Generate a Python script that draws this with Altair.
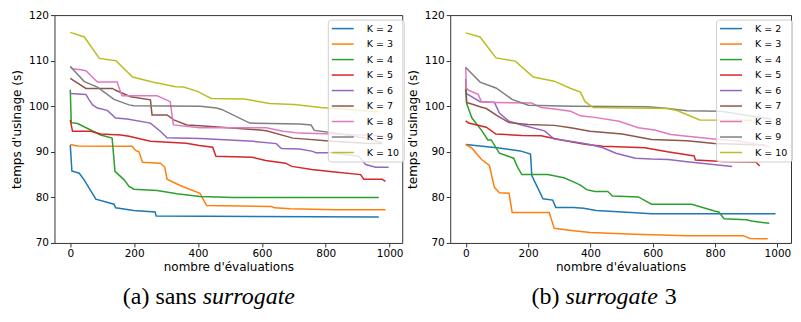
import altair as alt
import pandas as pd

K_LABELS = ["K = 2", "K = 3", "K = 4", "K = 5", "K = 6", "K = 7", "K = 8", "K = 9", "K = 10"]
COLORS = ["#1f77b4", "#ff7f0e", "#2ca02c", "#d62728", "#9467bd",
          "#8c564b", "#e377c2", "#7f7f7f", "#bcbd22"]
X_TICKS = [0, 200, 400, 600, 800, 1000]
Y_TICKS = [70, 80, 90, 100, 110, 120]

# ---------- (a) sans surrogate ----------
a_k2_x = [0, 5, 28, 44, 80, 137, 142, 199, 266, 269, 966]
a_k2_y = [91.5, 85.8, 85.3, 83.8, 79.6, 78.5, 77.7, 77.1, 76.8, 75.9, 75.7]
a_k3_x = [0, 23, 194, 204, 215, 226, 282, 296, 303, 344, 406, 427, 630, 640, 690, 830, 987]
a_k3_y = [91.6, 91.3, 91.2, 90.3, 90.0, 87.7, 87.5, 86.6, 84.0, 82.6, 80.9, 78.2, 78.0, 77.7, 77.5, 77.3, 77.3]
a_k4_x = [0, 3, 23, 95, 131, 140, 168, 184, 199, 272, 334, 406, 510, 966]
a_k4_y = [103.6, 96.4, 96.2, 93.7, 93.0, 85.7, 83.9, 82.4, 81.8, 81.5, 80.8, 80.2, 80.0, 80.0]
a_k5_x = [0, 7, 64, 95, 158, 184, 251, 363, 404, 446, 456, 570, 612, 674, 694, 756, 821, 909, 919, 976, 987]
a_k5_y = [97.0, 94.5, 94.5, 93.9, 93.7, 93.4, 92.3, 91.9, 91.4, 91.0, 89.0, 88.8, 88.1, 87.5, 86.8, 86.1, 85.6, 85.0, 84.0, 84.0, 83.5]
a_k6_x = [0, 49, 59, 70, 85, 116, 142, 178, 251, 282, 303, 407, 573, 645, 661, 718, 759, 769, 821, 904, 925, 956, 997]
a_k6_y = [102.8, 102.6, 101.4, 100.3, 99.6, 99.1, 97.4, 97.2, 96.3, 94.5, 93.1, 92.9, 92.3, 91.8, 90.7, 90.6, 90.1, 89.8, 89.8, 89.0, 87.2, 86.6, 86.6]
a_k7_x = [0, 49, 132, 142, 189, 251, 256, 303, 324, 365, 407, 593, 614, 697, 821, 925, 977]
a_k7_y = [106.1, 103.9, 103.9, 103.5, 102.1, 101.4, 98.1, 98.1, 97.0, 95.9, 95.7, 94.8, 94.6, 93.0, 92.3, 91.9, 91.8]
a_k8_x = [0, 7, 33, 49, 85, 147, 152, 162, 198, 272, 313, 323, 406, 614, 666, 718, 821, 980]
a_k8_y = [108.7, 108.2, 108.0, 107.8, 105.3, 105.3, 104.2, 102.3, 102.3, 102.3, 101.0, 95.9, 95.3, 95.3, 94.5, 94.1, 93.9, 93.5]
a_k9_x = [0, 44, 85, 137, 184, 199, 407, 458, 474, 562, 718, 754, 764, 821, 925, 977]
a_k9_y = [108.7, 105.4, 104.2, 101.5, 100.3, 100.1, 100.0, 99.6, 99.3, 96.3, 96.1, 95.9, 94.7, 94.2, 93.0, 92.0]
a_k10_x = [0, 44, 91, 143, 195, 257, 330, 355, 400, 422, 442, 546, 624, 700, 785, 966]
a_k10_y = [116.2, 115.2, 110.5, 110.0, 106.4, 105.3, 104.3, 104.2, 103.2, 102.4, 101.7, 101.6, 100.6, 100.4, 99.7, 98.8]

# ---------- (b) surrogate 3 ----------
b_k2_x = [0, 100, 175, 208, 212, 248, 279, 289, 346, 378, 419, 544, 596, 994]
b_k2_y = [91.6, 90.9, 90.2, 89.5, 84.8, 79.7, 79.4, 77.8, 77.8, 77.6, 77.1, 76.6, 76.4, 76.4]
b_k3_x = [0, 20, 51, 76, 92, 108, 139, 149, 268, 284, 346, 399, 544, 710, 891, 912, 969]
b_k3_y = [91.6, 90.8, 88.3, 87.0, 82.2, 81.0, 80.9, 76.7, 76.7, 73.2, 72.7, 72.3, 71.9, 71.6, 71.6, 71.0, 70.9]
b_k4_x = [0, 3, 20, 51, 71, 82, 108, 154, 165, 180, 263, 315, 346, 368, 388, 414, 456, 471, 554, 596, 725, 798, 812, 829, 901, 917, 974]
b_k4_y = [103.8, 100.6, 97.4, 94.7, 92.6, 92.6, 89.7, 88.6, 86.8, 85.0, 85.0, 84.3, 83.4, 82.7, 81.7, 81.3, 81.3, 80.3, 80.1, 78.5, 78.5, 77.0, 76.8, 75.3, 75.1, 74.8, 74.3]
b_k5_x = [0, 9, 66, 97, 180, 242, 284, 346, 388, 440, 575, 647, 694, 733, 737, 839, 932, 943]
b_k5_y = [96.8, 96.3, 95.4, 93.9, 93.6, 93.5, 92.9, 92.1, 91.6, 91.2, 90.9, 90.0, 89.5, 89.1, 88.2, 87.8, 87.7, 86.9]
b_k6_x = [0, 46, 92, 108, 139, 180, 253, 284, 346, 399, 440, 482, 544, 596, 650, 710, 855]
b_k6_y = [102.9, 101.0, 100.9, 98.5, 96.7, 95.9, 94.6, 92.8, 92.2, 91.6, 90.9, 89.7, 88.6, 88.4, 88.3, 87.8, 86.8]
b_k7_x = [0, 3, 14, 46, 66, 102, 139, 200, 284, 337, 399, 502, 596, 710, 798, 960]
b_k7_y = [106.0, 100.8, 100.6, 99.9, 99.5, 97.9, 96.4, 96.0, 95.8, 95.3, 94.5, 93.9, 92.7, 92.4, 91.8, 91.5]
b_k8_x = [0, 2, 9, 40, 51, 97, 211, 242, 284, 337, 368, 419, 492, 554, 606, 658, 710, 798, 880, 975]
b_k8_y = [108.6, 104.0, 103.5, 102.6, 100.9, 100.8, 100.7, 99.7, 99.4, 98.9, 97.9, 97.5, 96.7, 95.3, 94.8, 93.8, 93.4, 92.8, 92.3, 91.1]
b_k9_x = [0, 46, 97, 149, 201, 346, 585, 650, 710, 818, 900, 980]
b_k9_y = [108.5, 105.3, 104.0, 101.5, 100.2, 100.0, 99.9, 99.5, 99.0, 98.9, 98.0, 97.2]
b_k10_x = [0, 46, 97, 159, 217, 284, 337, 368, 383, 409, 647, 680, 751, 920]
b_k10_y = [116.1, 115.2, 110.6, 109.9, 106.4, 105.5, 103.9, 103.1, 101.0, 99.7, 99.5, 99.0, 97.0, 96.9]

A_SERIES = [(a_k2_x, a_k2_y), (a_k3_x, a_k3_y), (a_k4_x, a_k4_y), (a_k5_x, a_k5_y),
            (a_k6_x, a_k6_y), (a_k7_x, a_k7_y), (a_k8_x, a_k8_y), (a_k9_x, a_k9_y),
            (a_k10_x, a_k10_y)]
B_SERIES = [(b_k2_x, b_k2_y), (b_k3_x, b_k3_y), (b_k4_x, b_k4_y), (b_k5_x, b_k5_y),
            (b_k6_x, b_k6_y), (b_k7_x, b_k7_y), (b_k8_x, b_k8_y), (b_k9_x, b_k9_y),
            (b_k10_x, b_k10_y)]


def frame(series):
    rows = []
    for label, (xs, ys) in zip(K_LABELS, series):
        for x, y in zip(xs, ys):
            rows.append({"K": label, "evals": x, "temps": y})
    return pd.DataFrame(rows)


def caption(text, x, align, style):
    return alt.Chart(pd.DataFrame({"t": [text]})).mark_text(
        font="Liberation Serif", fontSize=24, fontStyle=style, align=align,
        baseline="alphabetic", color="black"
    ).encode(text="t:N", x=alt.value(x), y=alt.value(289))


def panel(df, width, xdomain, legend_x, captions):
    lines = alt.Chart(df).mark_line(strokeWidth=1.5).encode(
        x=alt.X("evals:Q",
                scale=alt.Scale(domain=xdomain, nice=False, zero=False),
                axis=alt.Axis(values=X_TICKS, format="d", title="nombre d'évaluations")),
        y=alt.Y("temps:Q",
                scale=alt.Scale(domain=[70, 120], nice=False, zero=False),
                axis=alt.Axis(values=Y_TICKS, format="d", title="temps d'usinage (s)")),
        color=alt.Color("K:N",
                        scale=alt.Scale(domain=K_LABELS, range=COLORS),
                        legend=alt.Legend(
                            title=None, orient="none", legendX=legend_x, legendY=4.5,
                            symbolType="M-2.75,0H2.75", symbolSize=64,
                            symbolStrokeWidth=1.5, symbolOffset=6, labelOffset=19,
                            labelFont="DejaVu Sans", labelFontSize=9.5, labelColor="black",
                            rowPadding=5.5, padding=4, strokeColor="#d0d0d0",
                            fillColor="rgba(255,255,255,0.8)", cornerRadius=3)),
    ).properties(width=width, height=228)
    texts = [caption(*c) for c in captions]
    return alt.layer(lines, *texts)


left = panel(frame(A_SERIES), 348, [-49.5, 1039.5], 273.5,
             [("(a) sans", 142.3, "right", "normal"),
              ("surrogate", 148.3, "left", "italic")])
right = panel(frame(B_SERIES), 341, [-49.7, 1043.7], 266,
              [("(b)", 109.4, "right", "normal"),
               ("surrogate", 115.4, "left", "italic"),
               ("3", 214.7, "left", "normal")])

chart = alt.hconcat(left, right, spacing=48, bounds="flush").resolve_scale(
    color="independent"
).resolve_legend(
    color="independent"
).properties(
    padding={"left": 1.5, "top": 1, "right": 0, "bottom": 0}
).configure_axis(
    labelFont="DejaVu Sans", labelFontSize=10.5, labelColor="black",
    titleFont="DejaVu Sans", titleFontSize=12, titleFontWeight="normal",
    titleColor="black", tickColor="#333", tickSize=4, labelPadding=2,
    domain=False, grid=False
).configure_axisX(titlePadding=2).configure_axisY(titlePadding=5).configure_view(
    stroke="#333", strokeWidth=1
)

chart.save("out.html", embed_options={"renderer": "svg", "actions": False})
